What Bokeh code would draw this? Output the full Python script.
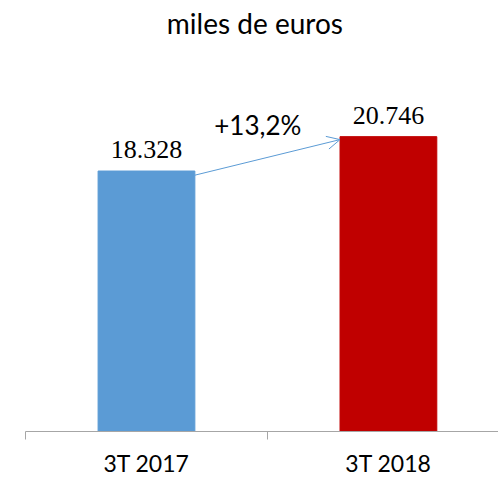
from bokeh.plotting import figure
from bokeh.models import ColumnDataSource, Range1d, FixedTicker, LabelSet, Label, Arrow, OpenHead
from bokeh.embed import file_html
from bokeh.resources import INLINE

categories = ["3T 2017", "3T 2018"]
values = [18328, 20746]
value_labels = ["18.328", "20.746"]
colors = ["#5B9BD5", "#C00000"]
title_text = "miles de euros"

growth = (values[1] / values[0] - 1) * 100
growth_label = "+" + f"{growth:.1f}".replace(".", ",") + "%"

xs = [0.5, 1.5]
FONT = "Lato"

p = figure(width=498, height=479, output_backend="svg", toolbar_location=None,
           x_range=Range1d(0, 1.955), y_range=Range1d(0, 30326),
           y_axis_location=None,
           min_border_left=25, min_border_right=0, min_border_top=0, min_border_bottom=45)
p.outline_line_color = None
p.xgrid.visible = False
p.ygrid.visible = False

src = ColumnDataSource(dict(x=xs, top=values, color=colors, label=value_labels))
p.vbar(x="x", top="top", width=0.4, bottom=0, color="color", source=src)

ax = p.xaxis[0]
ax.ticker = FixedTicker(ticks=xs, minor_ticks=[0, 1, 2])
ax.major_label_overrides = {xs[i]: categories[i] for i in range(len(xs))}
ax.major_tick_line_color = None
ax.major_tick_out = 0
ax.major_tick_in = 0
ax.minor_tick_out = 8
ax.minor_tick_in = 0
ax.minor_tick_line_color = "#A6A6A6"
ax.axis_line_color = "#A6A6A6"
ax.major_label_text_font = FONT
ax.major_label_text_font_size = "23px"
ax.major_label_text_color = "#000000"
ax.major_label_standoff = 9

p.add_layout(LabelSet(x="x", y="top", text="label", source=src, text_align="center",
                      text_baseline="alphabetic", y_offset=13, text_font=FONT,
                      text_font_size="26px", text_color="#000000"))

p.add_layout(Arrow(end=OpenHead(size=13, line_color="#5B9BD5", line_width=1),
                   x_start=xs[0] + 0.2, y_start=values[0] * 0.984,
                   x_end=xs[1] - 0.2, y_end=values[1] * 0.99,
                   line_color="#5B9BD5", line_width=1))

p.add_layout(Label(x=(xs[0] + xs[1]) / 2 - 0.04, y=values[1], y_offset=12, text=growth_label,
                   text_align="center", text_baseline="alphabetic", text_font=FONT,
                   text_font_size="26px", text_color="#000000"))

p.add_layout(Label(x=0.948, y=27880, y_offset=12, text=title_text, text_align="center",
                   text_baseline="alphabetic", text_font=FONT, text_font_size="28px",
                   text_color="#000000"))

open("out.html", "w").write(file_html(p, INLINE))
